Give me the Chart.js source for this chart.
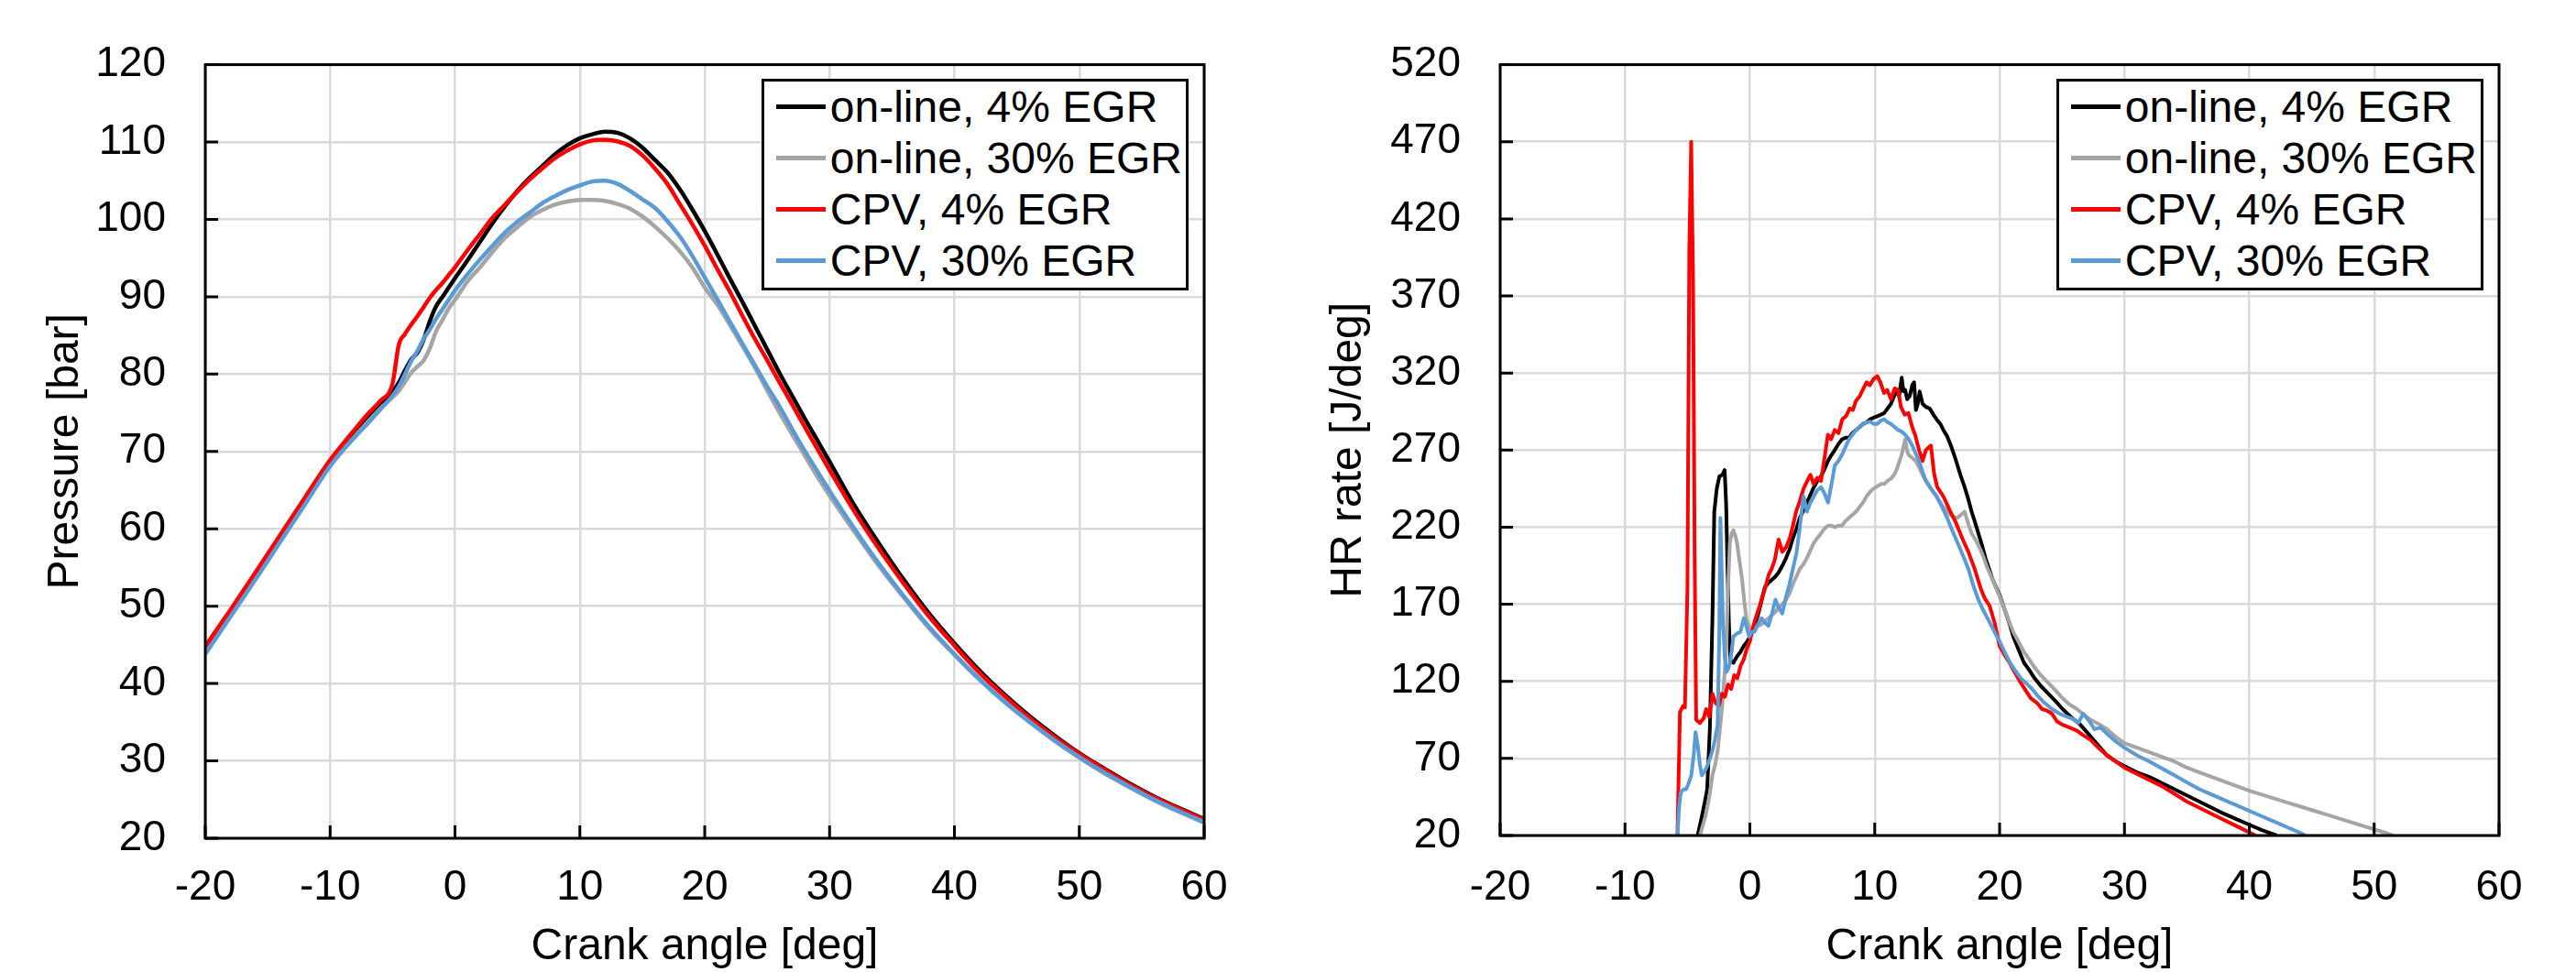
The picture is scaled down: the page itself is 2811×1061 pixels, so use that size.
<!DOCTYPE html>
<html>
<head>
<meta charset="utf-8">
<script src="https://cdn.jsdelivr.net/npm/chart.js@4.4.1/dist/chart.umd.min.js"></script>
<style>
  body { margin:0; background:#fff; width:2811px; height:1061px; overflow:hidden; position:relative; font-family:"Liberation Sans", Arial, sans-serif; }
  .panel { position:absolute; top:0; height:1061px; }
  .legend { position:absolute; background:#fff; border:3px solid #000; padding:0 4px 1px 0; }
  .legend .row { display:flex; align-items:center; height:56px; font-size:48px; white-space:nowrap; color:#000; }
  .legend .swatch { width:54px; height:5px; margin:0 5px 0 13px; flex:none; }
</style>
</head>
<body>
<div class="panel" id="panelP" style="left:0;width:1400px"><canvas id="chartP" width="1400" height="1061"></canvas></div>
<div class="panel" id="panelHR" style="left:1400px;width:1411px"><canvas id="chartHR" width="1411" height="1061"></canvas></div>
<script>
// series names and colours (same order in both charts)
const seriesLabels = ['on-line, 4% EGR', 'on-line, 30% EGR', 'CPV, 4% EGR', 'CPV, 30% EGR'];
const seriesColors = ['#000000', '#a5a5a5', '#ff0000', '#5b9bd5'];

// ---- left chart: cylinder pressure [bar] vs crank angle [deg]
const angP = [-20,-18,-16,-14,-12,-10,-8,-7,-6,-5,-4.5,-4,-3.5,-3,-2.5,-2,-1.5,-1,-0.5,
  0,1,2,3,4,5,6,7,8,9,10,11,12,13,14,15,16,17,18,19,20,21,22,23,24,25,26,27,28,29,30,
  32,34,36,38,40,42,44,46,48,50,52,54,56,58,60];
const pOnline4 = [44.5,49.2,54.0,58.9,63.8,68.6,72.5,74.3,76.0,77.7,78.9,80.5,81.9,82.8,84.5,86.9,88.8,90.0,91.2,
  92.4,94.7,97.1,99.5,101.7,103.7,105.4,106.9,108.4,109.6,110.5,111.0,111.35,111.2,110.5,109.3,107.7,106.1,103.9,101.3,98.5,95.5,92.4,89.4,86.3,83.2,80.1,77.2,74.3,71.5,68.7,
  63.0,58.0,53.3,49.0,45.2,41.7,38.6,35.8,33.3,31.0,29.0,27.1,25.4,23.9,22.5];
const pOnline30 = [44.1,48.8,53.6,58.5,63.4,68.2,72.0,73.8,75.5,77.0,77.8,79.0,80.2,81.0,81.8,83.4,85.6,87.0,88.5,
  89.6,92.0,93.8,95.8,97.6,99.0,100.3,101.2,101.9,102.3,102.5,102.5,102.4,102.0,101.4,100.4,99.1,97.6,95.9,93.8,91.2,89.0,86.4,83.7,80.9,77.9,75.0,72.2,69.5,66.8,64.3,
  59.6,55.1,51.0,47.1,43.7,40.5,37.6,35.0,32.6,30.4,28.4,26.6,24.9,23.4,22.0];
const pCpv4 = [44.8,49.5,54.3,59.2,64.1,68.9,72.9,74.8,76.5,78.8,83.8,85.2,86.4,87.5,88.7,89.9,90.9,91.8,92.8,
  93.8,96.0,98.1,100.2,101.9,103.6,105.2,106.6,107.9,108.9,109.7,110.2,110.3,110.1,109.5,108.3,106.6,104.6,102.0,99.4,96.6,93.6,90.7,87.6,84.6,81.8,78.9,76.1,73.2,70.4,67.6,
  62.2,57.3,52.8,48.6,44.9,41.4,38.4,35.6,33.1,30.9,28.9,27.0,25.3,23.8,22.4];
const pCpv30 = [43.8,48.6,53.4,58.3,63.2,68.1,71.9,73.6,75.4,77.2,78.4,80.0,81.7,83.0,84.6,85.8,87.2,88.4,89.6,
  90.8,92.9,94.8,96.6,98.3,99.7,100.9,102.1,103.0,103.8,104.4,104.9,105.0,104.6,103.7,102.6,101.5,99.8,97.8,95.3,92.5,89.7,86.8,84.0,81.2,78.4,75.8,72.9,70.1,67.5,64.9,
  60.0,55.4,51.2,47.3,43.8,40.6,37.7,35.1,32.7,30.5,28.5,26.7,25.0,23.5,22.1];

// ---- right chart: heat release rate [J/deg] vs crank angle [deg]
const angOnline4 = [-4.18,-3.85,-3.6,-3.42,-3.2,-3.0,-2.85,-2.65,-2.44,-2.2,-2.02,-1.9,-1.78,-1.68,-1.55,-1.32,-1.04,-0.76,-0.48,-0.2,
  0.08,0.36,0.65,0.93,1.2,1.5,1.77,2.05,2.33,2.6,2.9,3.2,3.45,3.73,4.0,4.3,4.57,4.85,5.13,5.4,
  5.7,6.0,6.26,6.55,6.8,7.1,7.38,7.66,7.94,8.22,8.5,8.8,9.07,9.35,9.63,9.9,10.2,10.5,10.76,11.03,
  11.3,11.5,11.74,11.95,12.16,12.3,12.44,12.6,12.8,13.0,13.15,13.3,13.45,13.6,13.83,14.1,14.4,14.7,14.95,15.25,
  15.5,15.8,16.1,16.4,16.63,16.9,17.2,17.5,17.76,18.0,18.3,18.6,18.9,19.2,19.44,19.72,20.0,20.3,20.56,20.85,
  21.1,21.5,21.96,22.4,22.8,23.3,23.9,24.5,25.05,25.7,26.45,27.1,27.85,28.6,29.3,30.0,31.0,32.0,33.0,34.0,
  35.0,36.0,37.0,38.0,39.0,40.0,41.0,42.2];
const hrOnline4 = [20,32,42,50,90,160,230,245,253,254,257,235,190,158,133,132,136,139,143,146,
  150,156,163,172,181,184,186,188,191,195,200,206,213,219,226,231,236,241,246,250,
  253,258,263,267,270,274,277,278,278,281,283,285,287,288,290,291,292,293,294,297,
  300,304,309,305,317,308,309,303,305,312,314,296,300,308,300,298,297,293,290,287,
  283,279,273,266,260,253,246,238,230,224,216,208,199,192,186,181,176,169,163,156,
  149,141,132,127,122,117,112,107,102,97,92,86,79,72,68,65,61,58,54,50,
  46,42,38,34,30.5,27,23.5,20];

const angOnline30 = [-4.0,-3.57,-3.25,-3.0,-2.78,-2.58,-2.36,-2.16,-2.0,-1.88,-1.75,-1.6,-1.45,-1.32,-1.18,-1.04,-0.83,-0.62,-0.45,-0.25,
  0.08,0.36,0.65,0.93,1.2,1.5,1.77,2.05,2.33,2.6,2.9,3.17,3.45,3.73,4.0,4.3,4.57,4.85,5.13,5.41,
  5.7,5.97,6.26,6.54,6.8,7.1,7.38,7.66,7.94,8.22,8.5,8.78,9.07,9.35,9.63,9.9,10.2,10.5,10.76,11.03,
  11.3,11.55,11.74,11.95,12.16,12.3,12.44,12.58,12.7,13.0,13.27,13.55,13.83,14.1,14.5,14.95,15.4,15.8,16.2,16.63,
  16.9,17.2,17.5,17.76,18.2,18.6,19.0,19.44,19.9,20.3,20.7,21.1,21.5,21.96,22.4,22.8,23.3,23.9,24.5,25.05,
  25.6,26.2,26.8,27.3,28.0,28.6,29.3,30.0,31.0,32.0,33.0,34.0,35.0,36.0,37.0,38.0,39.0,40.0,41.0,42.0,
  43.0,44.0,45.0,46.0,47.0,48.0,49.0,50.0,51.0,51.5];
const hrOnline30 = [20,32,45,59,66,75,92,109,128,143,180,210,216,218,215,210,198,186,172,159,
  153,154,156,157,159,161,163,165,168,170,173,177,183,188,193,196,200,205,210,213,
  216,219,221,221,220,221,221,224,226,228,230,233,236,240,243,245,246.5,248,248,250,
  251.5,254,257,262,267,272,277,270,267,265,263,259,254,250,245,240,234,230,227,226,
  228,230,222,216,210,203,194,186,177,169,160,152,146,139,134,129,124,119,114,109,
  105,102,98,95,92,89,84,80,77,74,71,68,64,61,58,55,52,49,46.5,44,
  41.5,39,36.5,34,31.5,29,26.5,24,21.5,20];

const angCpv4 = [-5.8,-5.6,-5.35,-5.2,-5.0,-4.85,-4.7,-4.55,-4.42,-4.3,-4.0,-3.7,-3.5,-3.25,-3.0,-2.75,-2.5,-2.25,-2.0,-1.75,
  -1.5,-1.25,-1.0,-0.75,-0.5,-0.25,0,0.25,0.5,0.75,1.0,1.25,1.5,1.75,2.0,2.3,2.6,2.9,3.2,3.45,
  3.7,4.0,4.3,4.6,4.85,5.1,5.4,5.7,6.0,6.25,6.5,6.8,7.1,7.4,7.7,8.0,8.25,8.5,8.8,9.1,
  9.35,9.6,9.9,10.2,10.45,10.75,11.0,11.3,11.6,11.87,12.1,12.4,12.7,13.0,13.27,13.55,13.83,14.1,14.5,14.75,
  15.0,15.5,16.0,16.5,17.0,17.5,18.0,18.5,18.8,19.2,19.6,20.0,20.4,20.8,21.2,21.7,22.1,22.5,23.0,23.4,
  23.8,24.2,24.6,25.0,25.6,26.2,26.7,27.3,27.9,28.6,29.3,30.0,31.0,32.0,33.0,34.0,35.0,36.0,37.0,38.0,
  39.0,40.0,40.5];
const hrCpv4 = [20,100,104,103,180,400,470,380,200,95,93,96,102,97,112,106,104,112,110,118,
  115,124,122,130,134,141,146,155,162,168,175,181,189,193,199,212,204,207,213,221,
  230,237,245,250,254,248,252,250,266,280,277,283,281,290,292,297,296,302,305,310,
  314,312,316,318,314,307,309,303,310,309,298,293,294,285,279,270,263,270,273,255,
  246,240,231,223,213,204,193,180,174,169,158,143,137,132,126,119,114,109,106,102,
  101,99,94,92,90,88,85,82,77,72,68,64,60,56,52,47,42,38,34,30,
  26,22,20];

const angCpv30 = [-5.8,-5.65,-5.53,-5.3,-5.1,-4.9,-4.69,-4.5,-4.35,-4.2,-4.0,-3.85,-3.6,-3.42,-3.2,-3.0,-2.8,-2.58,-2.45,-2.36,
  -2.25,-2.16,-2.0,-1.88,-1.74,-1.6,-1.45,-1.32,-1.04,-0.76,-0.48,-0.25,-0.06,0.15,0.36,0.65,0.93,1.2,1.49,1.77,
  2.05,2.3,2.6,2.9,3.17,3.45,3.73,4.0,4.3,4.57,4.85,5.13,5.41,5.7,5.97,6.26,6.54,6.8,7.1,7.38,
  7.66,7.94,8.22,8.5,8.78,9.07,9.35,9.63,9.9,10.2,10.47,10.76,11.03,11.3,11.58,11.87,12.15,12.44,12.72,13.0,
  13.27,13.55,13.83,14.1,14.5,14.95,15.4,15.8,16.2,16.63,17.05,17.5,17.9,18.3,18.7,19.16,19.6,20.0,20.4,20.84,
  21.25,21.7,22.1,22.5,23.0,23.6,24.2,24.8,25.4,25.9,26.3,26.7,27.2,27.6,28.1,28.6,29.3,30.0,31.0,32.0,
  33.0,34.0,35.0,36.0,37.0,38.0,39.0,40.0,41.0,42.0,43.0,44.0,44.5];
const hrCpv30 = [20,40,48,50,50,54,59,72,87,80,66,59,62,65,70,75,82,92,150,226,
  190,159,135,126,128,132,140,149,151,152,161,155,149,152,152,157,161,158,156,164,
  173,168,164,175,183,193,203,220,240,230,236,240,244,246,242,236,248,260,263,267,
  272,277,280,283,285,287,288,288.5,287,287,289,290,288,287,285,283,282,280,277,273,
  268,263,256,250,245,240,233,226,218,210,202,193,182,173,166,159,152,146,139,132,
  127,122,119,116,111,106,102,99,97,95.6,93,99,94,89,90,86,81,77,72,68,
  63.5,59,54.5,50,46.5,43,39.5,36,32.5,29,25.5,22,20];

const tickFont = { family: '"Liberation Sans", Arial, sans-serif', size: 46 };
const titleFont = { family: '"Liberation Sans", Arial, sans-serif', size: 48 };

// black frame round the plot area and inside tick marks
const framePlugin = {
  id: 'frame',
  afterDraw(chart) {
    const { ctx, chartArea: a, scales: { x, y } } = chart;
    ctx.save();
    ctx.strokeStyle = '#000';
    ctx.lineWidth = 3;
    ctx.beginPath();
    x.ticks.forEach(t => {
      const px = x.getPixelForValue(t.value);
      ctx.moveTo(px, a.bottom);
      ctx.lineTo(px, a.bottom - 14);
    });
    y.ticks.forEach(t => {
      const py = y.getPixelForValue(t.value);
      ctx.moveTo(a.left, py);
      ctx.lineTo(a.left + 14, py);
    });
    ctx.stroke();
    ctx.strokeRect(a.left, a.top, a.right - a.left, a.bottom - a.top);
    ctx.restore();
  }
};

function toPoints(xs, ys) {
  return xs.map((v, i) => ({ x: v, y: ys[i] }));
}

function makeDatasets(pairs, smooth, width) {
  return pairs.map((p, i) => ({
    label: seriesLabels[i],
    data: toPoints(p[0], p[1]),
    borderColor: seriesColors[i],
    borderWidth: width,
    pointRadius: 0,
    fill: false,
    borderJoinStyle: 'round',
    cubicInterpolationMode: smooth ? 'monotone' : 'default',
    tension: 0,
    order: 4 - i
  }));
}

function makeOptions(cfg) {
  return {
    responsive: false,
    animation: false,
    devicePixelRatio: 1,
    layout: { padding: cfg.pad },
    plugins: { legend: { display: false }, tooltip: { enabled: false } },
    scales: {
      x: {
        type: 'linear', min: -20, max: 60,
        ticks: { stepSize: 10, padding: cfg.xTickPad, color: '#000', font: tickFont, maxRotation: 0 },
        grid: { color: '#d9d9d9', lineWidth: 2.5, drawTicks: false },
        border: { display: false },
        title: { display: true, text: 'Crank angle [deg]', color: '#000', font: titleFont, padding: { top: 0, bottom: -2 } },
        afterFit(scale) { scale.height = cfg.xHeight; }
      },
      y: {
        type: 'linear', min: cfg.yMin, max: cfg.yMax,
        ticks: { stepSize: cfg.yStep, padding: 43, color: '#000', font: tickFont },
        grid: { color: '#d9d9d9', lineWidth: 2.5, drawTicks: false },
        border: { display: false },
        title: { display: true, text: cfg.yTitle, color: '#000', font: titleFont, padding: { top: 43, bottom: 0 } },
        afterFit(scale) { scale.width = cfg.yWidth; }
      }
    }
  };
}

function addLegend(chart, panelId) {
  const panel = document.getElementById(panelId);
  const box = document.createElement('div');
  box.className = 'legend';
  seriesLabels.forEach((lab, i) => {
    const row = document.createElement('div');
    row.className = 'row';
    const sw = document.createElement('span');
    sw.className = 'swatch';
    sw.style.background = seriesColors[i];
    const txt = document.createElement('span');
    txt.textContent = lab;
    row.appendChild(sw);
    row.appendChild(txt);
    box.appendChild(row);
  });
  const a = chart.chartArea;
  box.style.right = (panel.clientWidth - (a.right - 17)) + 'px';
  box.style.top = (a.top + 15) + 'px';
  panel.appendChild(box);
}

const chartP = new Chart(document.getElementById('chartP'), {
  type: 'line',
  data: {
    datasets: makeDatasets([
      [angP, pOnline4], [angP, pOnline30], [angP, pCpv4], [angP, pCpv30]
    ], true, 4.5)
  },
  options: makeOptions({
    pad: { left: 0, right: 86, top: 60, bottom: 0 },
    yWidth: 224, xHeight: 146, xTickPad: 27,
    yMin: 20, yMax: 120, yStep: 10, yTitle: 'Pressure [bar]'
  }),
  plugins: [framePlugin]
});

const chartHR = new Chart(document.getElementById('chartHR'), {
  type: 'line',
  data: {
    datasets: makeDatasets([
      [angOnline4, hrOnline4], [angOnline30, hrOnline30], [angCpv4, hrCpv4], [angCpv30, hrCpv30]
    ], false, 4)
  },
  options: makeOptions({
    pad: { left: 0, right: 84, top: 58, bottom: 0 },
    yWidth: 237, xHeight: 149, xTickPad: 30,
    yMin: 20, yMax: 520, yStep: 50, yTitle: 'HR rate [J/deg]'
  }),
  plugins: [framePlugin]
});

addLegend(chartP, 'panelP');
addLegend(chartHR, 'panelHR');
</script>
</body>
</html>
